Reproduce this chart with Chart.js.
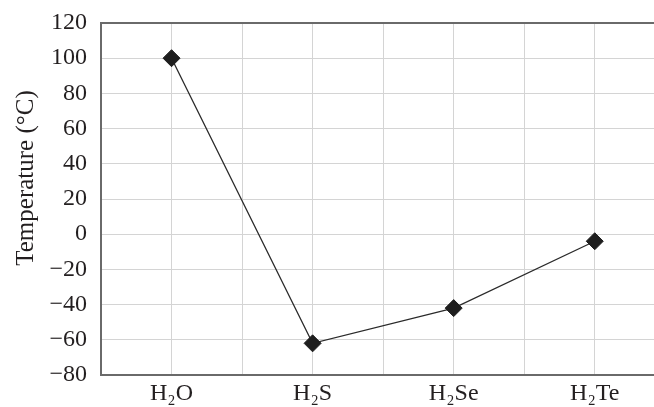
<!DOCTYPE html>
<html>
<head>
<meta charset="utf-8">
<script src="https://cdn.jsdelivr.net/npm/chart.js@4/dist/chart.umd.min.js"></script>
<style>
  html, body { margin: 0; padding: 0; background: #fff; overflow: hidden; }
  #wrap { width: 654px; height: 407px; position: relative; }
</style>
</head>
<body>
<div id="wrap"><canvas id="chart"></canvas></div>
<script>
const compounds = ['H\u2082O', 'H\u2082S', 'H\u2082Se', 'H\u2082Te'];
const boilingPoints = [100, -62, -42, -4];
const yTicks = [120, 100, 80, 60, 40, 20, 0, -20, -40, -60, -80];
const xGridSteps = [-0.5, 0, 0.5, 1, 1.5, 2, 2.5, 3];
const yTitle = 'Temperature (\u00b0C)';

const INK = '#231f20';
const GRID = '#d4d4d4';
const FRAME = '#6a6a6a';
const FAMILY = '"Liberation Serif", "Times New Roman", serif';
const FONT = { family: FAMILY, size: 24 };

const fmt = v => v < 0 ? '\u2212' + Math.abs(v) : String(v);

// rotated axis title, sitting a bit above the middle of the plot like the original
const sideTitle = {
    id: 'sideTitle',
    afterDraw(chart) {
        const { ctx, chartArea } = chart;
        const cy = (chartArea.top + chartArea.bottom) / 2 - 21;
        ctx.save();
        ctx.translate(33, cy);
        ctx.rotate(-Math.PI / 2);
        ctx.font = `25px ${FAMILY}`;
        ctx.fillStyle = INK;
        ctx.textAlign = 'center';
        ctx.textBaseline = 'alphabetic';
        ctx.fillText(yTitle, 0, 0);
        ctx.restore();
    },
};

function draw() {
    new Chart(document.getElementById('chart').getContext('2d'), {
        type: 'line',
        data: {
            datasets: [{
                data: boilingPoints.map((y, i) => ({ x: i, y })),
                borderColor: '#2a2a2a',
                borderWidth: 1.3,
                pointStyle: 'rectRot',
                pointRadius: 8.5,
                pointBorderWidth: 1,
                pointBackgroundColor: '#1e1e1e',
                pointBorderColor: '#1e1e1e',
                tension: 0,
                clip: false,
            }],
        },
        options: {
            responsive: true,
            maintainAspectRatio: false,
            animation: false,
            layout: { autoPadding: false, padding: { top: 23, right: 0, left: 0, bottom: 0 } },
            plugins: { legend: { display: false }, tooltip: { enabled: false } },
            scales: {
                x: {
                    type: 'linear',
                    min: -0.5,
                    max: 3.42,
                    afterBuildTicks: scale => { scale.ticks = xGridSteps.map(value => ({ value })); },
                    afterFit: scale => { scale.height = 32; },
                    ticks: {
                        autoSkip: false,
                        maxRotation: 0,
                        color: INK,
                        font: FONT,
                        padding: 4,
                        callback: v => Number.isInteger(v) ? compounds[v] : '',
                    },
                    grid: { color: GRID, lineWidth: 1, drawTicks: false },
                    border: { color: FRAME, width: 2 },
                },
                y: {
                    min: -80,
                    max: 120,
                    afterBuildTicks: scale => { scale.ticks = yTicks.map(value => ({ value })); },
                    afterFit: scale => { scale.width = 101; },
                    ticks: {
                        color: INK,
                        font: FONT,
                        padding: 2,
                        callback: v => fmt(v),
                    },
                    grid: {
                        drawTicks: true,
                        tickLength: 12,
                        tickColor: 'rgba(0,0,0,0)',
                        color: c => c.tick && c.tick.value === 120 ? FRAME : GRID,
                        lineWidth: c => c.tick && c.tick.value === 120 ? 2 : 1,
                    },
                    border: { color: FRAME, width: 2 },
                },
            },
        },
        plugins: [sideTitle],
    });
}

document.fonts.load(`24px ${FAMILY}`).then(draw, draw);
</script>
</body>
</html>
